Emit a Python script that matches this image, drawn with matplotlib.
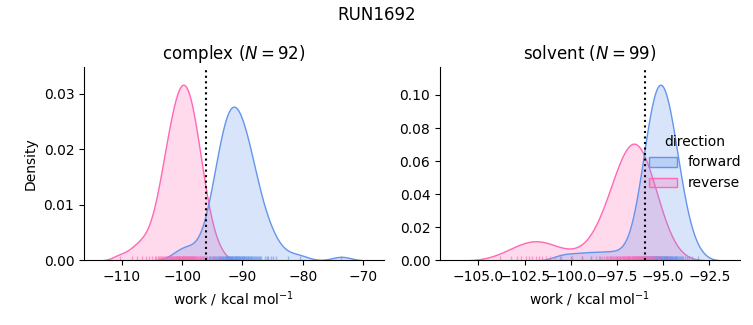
import numpy as np
import matplotlib
matplotlib.use("Agg")
import matplotlib.pyplot as plt
from matplotlib.colors import to_rgba
from matplotlib.patches import Patch

FORWARD_COLOR = "cornflowerblue"
REVERSE_COLOR = "hotpink"
DIRECTIONS = ["forward", "reverse"]
PHASES = ["complex", "solvent"]
DELTA_F = -96.0  # dotted reference line (kcal/mol)

complex_forward = [
    -100.9, -99.8, -99.0, -98.4,
    -91.64, -91.72, -91.80, -91.87, -91.96, -92.03, -92.12, -92.20, -92.28, -92.36,
    -92.44, -92.53, -92.61, -92.70, -92.78, -92.88, -92.96, -93.05, -93.16, -93.25,
    -93.35, -93.46, -93.57, -93.68, -93.80, -93.93, -94.06, -94.19, -94.34, -94.50,
    -94.67, -94.86, -95.07, -95.31, -95.61, -95.98, -96.50,
    -91.55, -91.47, -91.39, -91.30, -91.21, -91.13, -91.03, -90.95, -90.86, -90.77,
    -90.69, -90.60, -90.50, -90.41, -90.32, -90.22, -90.13, -90.04, -89.94, -89.84,
    -89.75, -89.65, -89.54, -89.44, -89.33, -89.23, -89.12, -89.01, -88.88, -88.76,
    -88.64, -88.51, -88.38, -88.25, -88.10, -87.96, -87.81, -87.64, -87.47, -87.28,
    -87.09, -86.88, -86.27, -86.00, -85.69, -85.33, -84.90, -84.35, -82.4, -80.4,
    -73.6,
]
complex_reverse = [
    -99.44, -99.51, -99.58, -99.66, -99.73, -99.81, -99.88, -99.96, -100.04, -100.11,
    -100.19, -100.26, -100.34, -100.42, -100.50, -100.58, -100.65, -100.74, -100.82,
    -100.90, -100.99, -101.07, -101.16, -101.24, -101.33, -101.42, -101.51, -101.60,
    -101.71, -101.80, -101.91, -102.01, -102.12, -102.22, -102.34, -102.45, -102.57,
    -102.70, -102.83, -102.97, -103.11, -103.27, -103.43, -103.61, -103.80, -104.01,
    -104.25, -104.50, -105.0, -105.5, -106.0, -106.7, -107.5, -108.3, -110.3,
    -99.36, -99.29, -99.21, -99.12, -99.05, -98.97, -98.90, -98.81, -98.73, -98.65,
    -98.57, -98.49, -98.40, -98.32, -98.23, -98.14, -98.04, -97.95, -97.86, -97.77,
    -97.66, -97.56, -97.45, -97.34, -97.21, -97.09, -96.96, -96.82, -96.66, -96.50,
    -96.32, -96.11, -95.88, -95.59, -95.24, -94.74, -93.77,
]
solvent_forward = [
    -100.6, -100.0, -99.4, -98.9, -98.4, -97.9, -97.5,
    -95.26, -95.28, -95.31, -95.32, -95.34, -95.36, -95.39, -95.41, -95.42, -95.45,
    -95.47, -95.49, -95.52, -95.54, -95.56, -95.59, -95.61, -95.64, -95.65, -95.68,
    -95.71, -95.74, -95.77, -95.79, -95.82, -95.86, -95.88, -95.92, -95.96, -96.00,
    -96.03, -96.08, -96.12, -96.18, -96.23, -96.30, -96.38, -96.48, -96.63, -96.91,
    -95.24, -95.22, -95.19, -95.18, -95.16, -95.13, -95.11, -95.09, -95.07, -95.05,
    -95.03, -95.00, -94.98, -94.96, -94.94, -94.92, -94.89, -94.87, -94.85, -94.83,
    -94.80, -94.79, -94.77, -94.75, -94.73, -94.70, -94.67, -94.64, -94.62, -94.59,
    -94.56, -94.53, -94.50, -94.47, -94.43, -94.40, -94.37, -94.33, -94.31, -94.28,
    -94.25, -94.20, -94.16, -94.10, -94.04, -93.98, -93.92, -93.83, -93.73, -93.61,
    -93.44, -93.10,
]
solvent_reverse = [
    -103.84, -103.26, -102.93, -102.67, -102.45, -102.26, -102.08, -101.90, -101.72,
    -101.54, -101.35, -101.13, -100.87, -100.54, -99.95,
    -96.31, -96.34, -96.37, -96.40, -96.43, -96.45, -96.48, -96.51, -96.54, -96.57,
    -96.60, -96.63, -96.65, -96.68, -96.71, -96.74, -96.77, -96.80, -96.84, -96.87,
    -96.90, -96.90, -96.93, -96.96, -97.00, -97.03, -97.06, -97.10, -97.13, -97.17,
    -97.20, -97.24, -97.28, -97.32, -97.36, -97.41, -97.45, -97.49, -97.54, -97.59,
    -97.64, -97.70, -97.76, -97.82, -97.88, -97.96, -98.04, -98.12, -98.22, -98.33,
    -98.47, -98.64, -98.89, -99.37,
    -96.29, -96.26, -96.23, -96.20, -96.18, -96.15, -96.12, -96.09, -96.06, -96.03,
    -96.00, -95.97, -95.94, -95.91, -95.87, -95.84, -95.80, -95.76, -95.72, -95.68,
    -95.64, -95.59, -95.54, -95.48, -95.42, -95.35, -95.26, -95.16, -95.01, -94.72,
]


def kde_curve(values, n_total, gridsize=200, cut=3):
    """Gaussian KDE (Scott bandwidth), scaled by group share of all data."""
    x = np.asarray(values, dtype=float)
    bw = len(x) ** (-1 / 5) * x.std(ddof=1)
    grid = np.linspace(x.min() - cut * bw, x.max() + cut * bw, gridsize)
    z = (grid[:, None] - x[None, :]) / bw
    dens = np.exp(-0.5 * z ** 2).sum(axis=1) / (len(x) * bw * np.sqrt(2 * np.pi))
    return grid, dens * len(x) / n_total


data = {
    ("complex", "forward"): complex_forward,
    ("complex", "reverse"): complex_reverse,
    ("solvent", "forward"): solvent_forward,
    ("solvent", "reverse"): solvent_reverse,
}
colors = {"forward": FORWARD_COLOR, "reverse": REVERSE_COLOR}
n_total = sum(len(v) for v in data.values())

fig = plt.figure(figsize=(7.53, 3.25), dpi=100)
axes = [fig.add_axes([0.1116, 0.1985, 0.398, 0.595]),
        fig.add_axes([0.5843, 0.1985, 0.398, 0.595])]

for ax, phase in zip(axes, PHASES):
    ymax = 0
    # seaborn draws hue levels in reverse order
    for direction in DIRECTIONS[::-1]:
        c = colors[direction]
        grid, dens = kde_curve(data[(phase, direction)], n_total)
        ax.fill_between(grid, 0, dens, facecolor=to_rgba(c, 0.25),
                        edgecolor=c, lw=1)
        ymax = max(ymax, dens.max())
    for direction in DIRECTIONS:
        ax.vlines(data[(phase, direction)], 0, 0.025,
                  transform=ax.get_xaxis_transform(),
                  colors=colors[direction], lw=1, alpha=0.6)
    ax.axvline(DELTA_F, color="k", ls=":", lw=1.5)
    ax.set_ylim(0, ymax * 1.1)
    n = len(data[(phase, "forward")])
    ax.set_title(f"{phase} ($N={n}$)", fontsize=12)
    ax.set_xlabel("work / kcal mol$^{-1}$")
    ax.spines["top"].set_visible(False)
    ax.spines["right"].set_visible(False)

axes[0].set_ylabel("Density")

handles = [Patch(facecolor=to_rgba(colors[d], 0.25), edgecolor=colors[d], lw=1)
           for d in DIRECTIONS]
fig.legend(handles, DIRECTIONS, title="direction", frameon=False,
           loc="center left", bbox_to_anchor=(0.845, 0.5))
fig.suptitle("RUN1692")

fig.savefig("out.png", dpi=100)
